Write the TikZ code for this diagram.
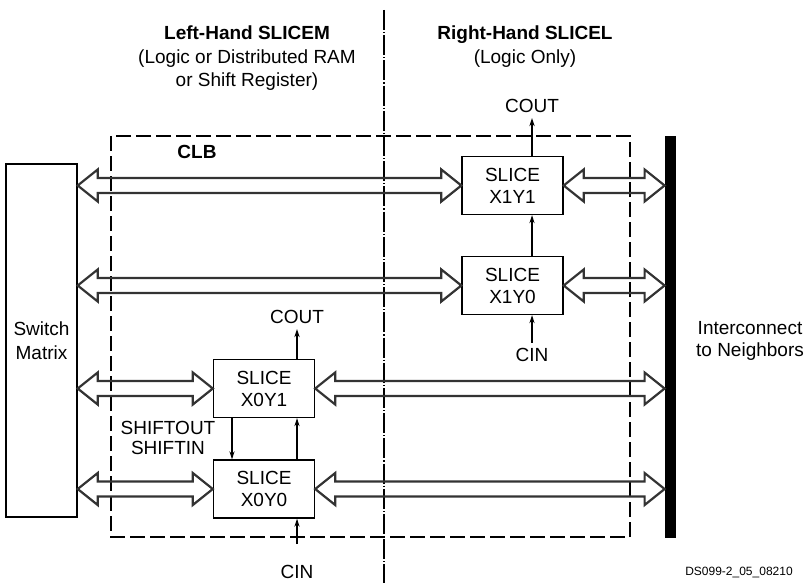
\documentclass[tikz,border=0pt]{standalone}
\usepackage{fontspec}
\setmainfont{Liberation Sans}
\usetikzlibrary{arrows.meta,calc}
\tikzset{
  slicebox/.style={draw, line width=0.7pt, minimum width=50.5pt, minimum height=29pt,
    align=center, font=\fontsize{9.5}{11}\selectfont, inner sep=0pt},
  lbl/.style={font=\fontsize{9.5}{11.75}\selectfont, align=center, inner sep=2.5pt},
  sig/.style={line width=0.6pt, -{Stealth[length=4pt,width=2.6pt]}},
  busline/.style={draw=black!80, line width=1.1pt, line join=miter},
  clbline/.style={line width=0.7pt, dash pattern=on 7.5pt off 2.5pt},
  divline/.style={line width=0.6pt, dash pattern=on 10pt off 1pt on 0.6pt off 1pt},
}
\newcommand{\bus}[2]{%
  \draw[busline] let \p1=(#1), \p2=(#2) in
    (\x1,\y1) -- (\x1+10pt,\y1+8pt) -- (\x1+10pt,\y1+3.75pt) --
    (\x2-10pt,\y2+3.75pt) -- (\x2-10pt,\y2+8pt) -- (\x2,\y2) --
    (\x2-10pt,\y2-8pt) -- (\x2-10pt,\y2-3.75pt) --
    (\x1+10pt,\y1-3.75pt) -- (\x1+10pt,\y1-8pt) -- cycle;}
\begin{document}
\begin{tikzpicture}[x=0.5pt,y=-0.5pt]
\useasboundingbox (0,0) rectangle (808,583);

% divider and CLB outline
\draw[divline] (384,10) -- (384,583);
\draw[clbline] (111,136) rectangle (630,537);

% titles
\node[lbl] (lt) at (247,58.5) {\textbf{Left-Hand SLICEM}\\(Logic or Distributed RAM\\or Shift Register)};
\node[lbl] (rt) at (525,46.5) {\textbf{Right-Hand SLICEL}\\(Logic Only)};
\node[lbl, font=\fontsize{9.5}{11.75}\selectfont\bfseries] (clb) at (197,152) {CLB};

% slices
\node[slicebox] (s11) at (512.5,185.5) {SLICE\\X1Y1};
\node[slicebox] (s10) at (512.5,285.5) {SLICE\\X1Y0};
\node[slicebox] (s01) at (264,388.5) {SLICE\\X0Y1};
\node[slicebox] (s00) at (264,489) {SLICE\\X0Y0};

% switch matrix and interconnect bar
\node[draw, line width=0.7pt, minimum width=35.5pt, minimum height=176.5pt, inner sep=0pt,
  font=\fontsize{9.5}{12}\selectfont, align=center] (sm) at (41.5,340.5) {Switch\\Matrix};
\node[fill=black, minimum width=5.5pt, minimum height=201pt, inner sep=0pt] (bar) at (670.5,337) {};
\node[lbl, font=\fontsize{9.5}{11}\selectfont] (intc) at (750,341) {Interconnect\\to Neighbors};

% carry labels
\node[lbl] (cout1) at (532,106) {COUT};
\node[lbl] (cin1) at (532,355) {CIN};
\node[lbl] (cout0) at (297,317) {COUT};
\node[lbl] (cin0) at (297,572) {CIN};
\coordinate (cin0top) at (297,544);
\coordinate (sh) at (232,0);
\node[lbl, font=\fontsize{9.5}{10}\selectfont] (shift) at (168,438) {SHIFTOUT\\SHIFTIN};
\node[font=\fontsize{6}{7}\selectfont, inner sep=0pt] (ds) at (739,572) {DS099-2\_05\_08210};

% carry / shift arrows
\draw[sig] (s11.north -| cout1) -- (cout1.south);
\draw[sig] (s10.north -| cout1) -- (s11.south -| cout1);
\draw[sig] (cin1.north) -- (s10.south -| cin1);
\draw[sig] (s01.north -| cout0) -- (cout0.south);
\draw[sig] (s00.north -| cout0) -- (s01.south -| cout0);
\draw[sig] (cin0top) -- (s00.south -| cin0top);
\draw[sig] (s01.south -| sh) -- (s00.north -| sh);

% buses
\bus{sm.east |- s11.west}{s11.west}
\bus{s11.east}{bar.west |- s11.east}
\bus{sm.east |- s10.west}{s10.west}
\bus{s10.east}{bar.west |- s10.east}
\bus{sm.east |- s01.west}{s01.west}
\bus{s01.east}{bar.west |- s01.east}
\bus{sm.east |- s00.west}{s00.west}
\bus{s00.east}{bar.west |- s00.east}
\end{tikzpicture}
\end{document}
